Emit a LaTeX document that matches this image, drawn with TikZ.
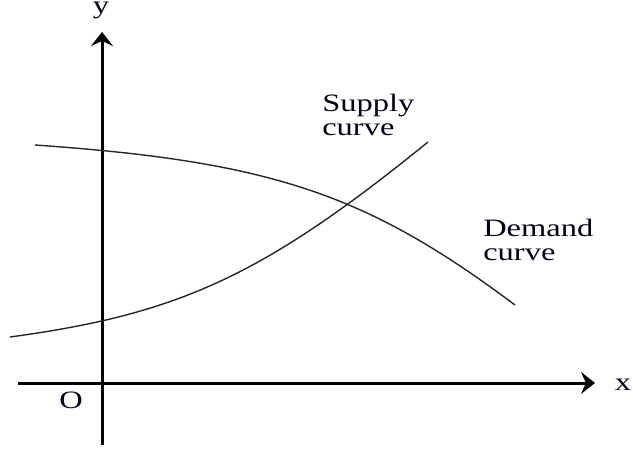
\documentclass[tikz,border=0pt]{standalone}
\usepackage{fontspec}
\setmainfont{Liberation Serif}
\usetikzlibrary{arrows.meta}
\begin{document}
\begin{tikzpicture}[x=1pt,y=-1pt,
  axisline/.style={line width=3pt,-{Stealth[length=14pt,width=22pt,inset=5pt]}},
  curveline/.style={line width=1.4pt, black!85},
  lbl/.style={font=\fontsize{25}{24}\selectfont, xscale=1.3, inner sep=0pt, align=left, text=black!90!blue},
]
\useasboundingbox (0,0) rectangle (633,450);
% axes
\coordinate (ybot) at (102,445);
\coordinate (ytop) at (102,32);
\coordinate (xleft) at (18,383);
\coordinate (xright) at (595,383);
\draw[axisline] (ybot) -- (ytop);
\draw[axisline] (xleft) -- (xright);
% demand curve
\coordinate (d0) at (35,145);
\coordinate (d3) at (515,305);
\draw[curveline] (d0) .. controls (270.2,161.5) and (366.2,193.5) .. (d3);
% supply curve
\coordinate (s0) at (10,337);
\coordinate (s3) at (428,142);
\draw[curveline] (s0) .. controls (180,314) and (264,275) .. (s3);
% labels
\node[lbl, anchor=base] (ylab) at (101,13.5) {y};
\node[lbl, anchor=base] (xlab) at (623,390) {x};
\node[lbl, anchor=base] (olab) at (71,408) {O};
\node[lbl, anchor=north west] (supply) at (322,94) {Supply\\curve};
\node[lbl, anchor=north west] (demand) at (483,219) {Demand\\curve};
\end{tikzpicture}
\end{document}
